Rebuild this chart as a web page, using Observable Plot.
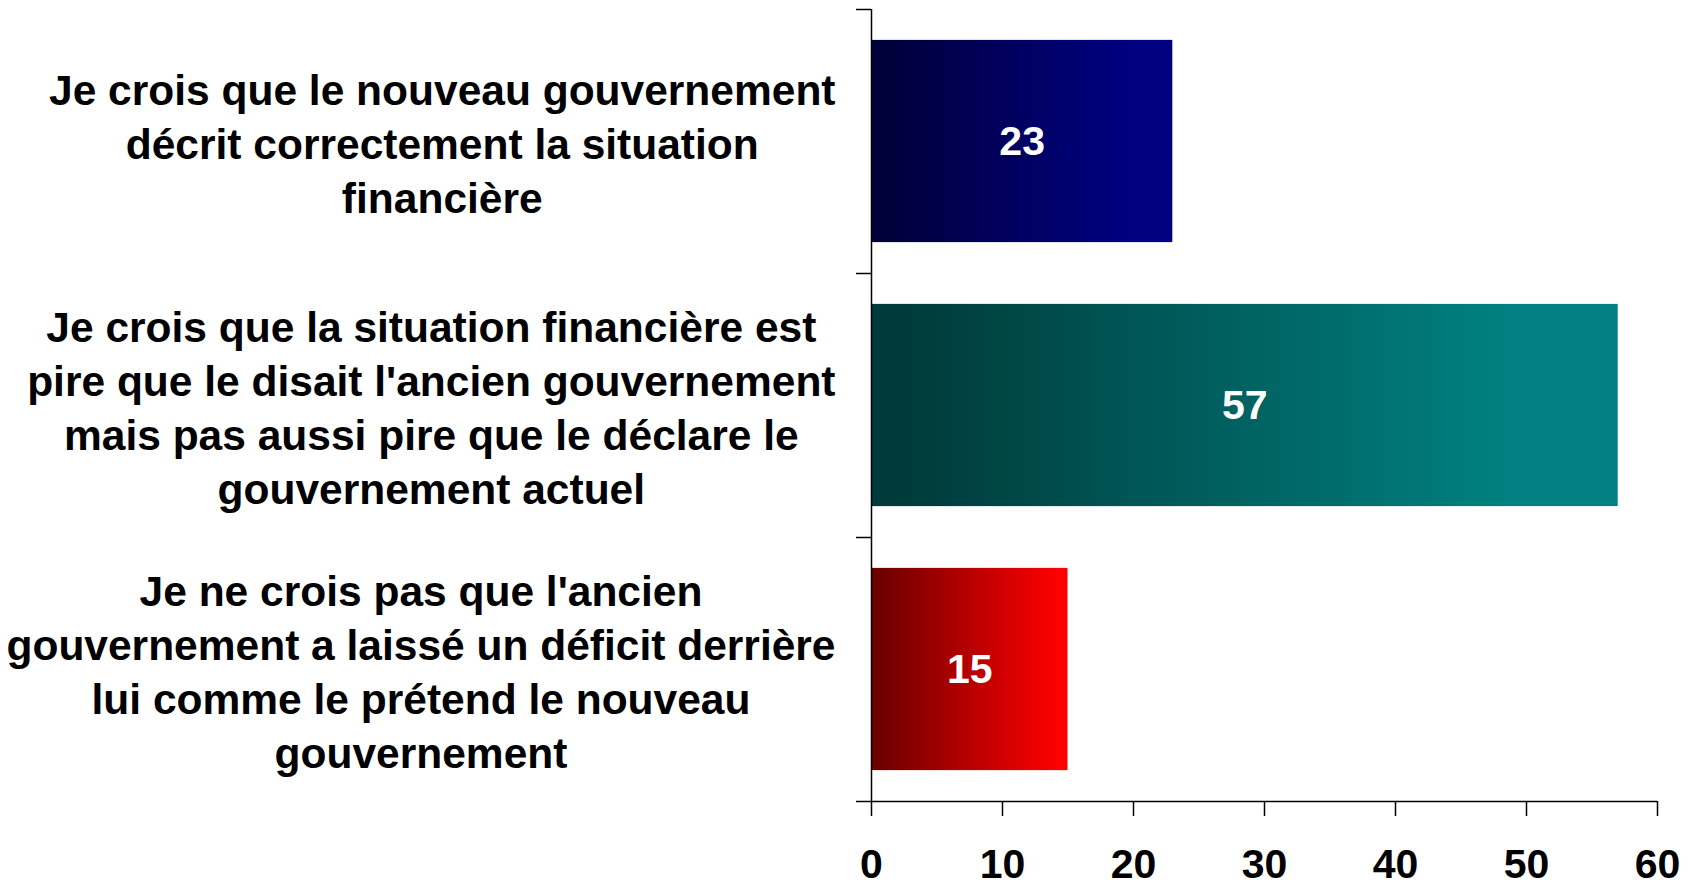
<!DOCTYPE html>
<html>
<head>
<meta charset="utf-8">
<script src="https://cdn.jsdelivr.net/npm/d3@7"></script>
<script src="https://cdn.jsdelivr.net/npm/@observablehq/plot@0.6"></script>
<style>
  html, body { margin: 0; padding: 0; background: white; }
</style>
</head>
<body>
<div id="chart"></div>
<script>
// ---- Data ----
const categories = [
  "Je crois que le nouveau gouvernement\ndécrit correctement la situation\nfinancière",
  "Je crois que la situation financière est\npire que le disait l'ancien gouvernement\nmais pas aussi pire que le déclare le\ngouvernement actuel",
  "Je ne crois pas que l'ancien\ngouvernement a laissé un déficit derrière\nlui comme le prétend le nouveau\ngouvernement"
];
const values = [23, 57, 15];
const xTicks = [0, 10, 20, 30, 40, 50, 60];
const barGradients = [
  ["#00003a", "#000080"],
  ["#003a3a", "#008080"],
  ["#6e0000", "#ff0000"]
];

// ---- Layout ----
const W = 1694, H = 884;
const mL = 871, mR = 37, mT = 9, mB = 83;
const font = "'Liberation Sans', Arial, Helvetica, sans-serif";
const labelSize = 42.5;

const rows = categories.map((label, i) => ({label, value: values[i], i}));

const ctx = document.createElement("canvas").getContext("2d");
ctx.font = `bold ${labelSize}px ${font}`;
const blockW = categories.map(c => d3.max(c.split("\n"), l => ctx.measureText(l).width));

const plot = Plot.plot({
  width: W,
  height: H,
  marginLeft: mL,
  marginRight: mR,
  marginTop: mT,
  marginBottom: mB,
  style: {fontFamily: font, fontWeight: "bold", fontSize: "41px", background: "white", color: "black", overflow: "visible"},
  x: {domain: [0, 60], label: null},
  y: {domain: [3, 0], label: null},
  color: {type: "identity"},
  marks: [
    Plot.rectX(rows, {
      x1: 0, x2: "value",
      y1: d => d.i + 0.117, y2: d => d.i + 0.883,
      fill: d => `url(#bar-grad-${d.i})`
    }),
    Plot.text(rows, {
      x: d => d.value / 2, y: d => d.i + 0.5,
      text: d => String(d.value),
      fill: "white", fontSize: 41, fontWeight: "bold"
    }),
    ...rows.map((r, i) => Plot.text([r], {
      frameAnchor: "left",
      y: d => d.i + 0.5,
      text: "label",
      textAnchor: "middle",
      lineAnchor: "middle",
      lineHeight: 54 / labelSize,
      fontSize: labelSize,
      fontWeight: "bold",
      fill: "black",
      dx: -36 - blockW[i] / 2
    })),
    Plot.axisX({ticks: xTicks, tickSize: 15, tickPadding: 32, fontSize: 41, fontWeight: "bold", strokeWidth: 1.5, tickFormat: d => String(d)}),
    Plot.axisY({ticks: [0, 1, 2, 3], tickSize: 15, tickFormat: () => "", strokeWidth: 1.5}),
    Plot.ruleX([0], {stroke: "black", strokeWidth: 1.5}),
    Plot.ruleY([3], {stroke: "black", strokeWidth: 1.5})
  ]
});

const svg = d3.select(plot);
const defs = svg.insert("defs", ":first-child");
barGradients.forEach(([dark, full], i) => {
  const g = defs.append("linearGradient")
    .attr("id", `bar-grad-${i}`)
    .attr("x1", "0").attr("x2", "1").attr("y1", "0").attr("y2", "0");
  g.append("stop").attr("offset", "0.04").attr("stop-color", dark);
  g.append("stop").attr("offset", i === 2 ? "0.96" : "0.85").attr("stop-color", full);
});

document.getElementById("chart").appendChild(plot);
</script>
</body>
</html>
